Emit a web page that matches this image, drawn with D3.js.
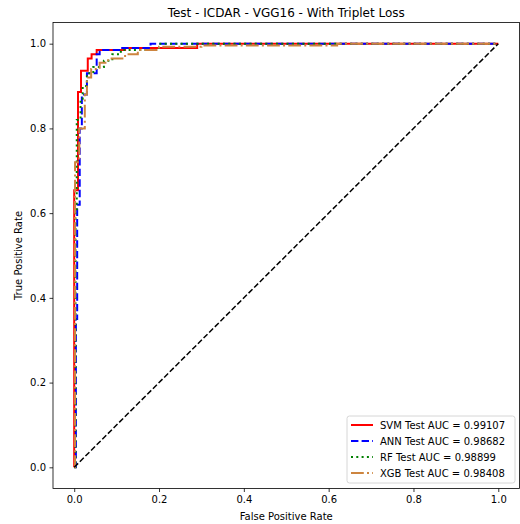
<!DOCTYPE html>
<html><head><meta charset="utf-8">
<script src="https://cdn.jsdelivr.net/npm/d3@7"></script>
<style>body{margin:0;background:#fff}svg{display:block}text{font-family:"DejaVu Sans",sans-serif;fill:#000}</style>
</head><body>
<script>
const title = "Test - ICDAR - VGG16 - With Triplet Loss";
const xLabel = "False Positive Rate";
const yLabel = "True Positive Rate";
const ticks = [0, 0.2, 0.4, 0.6, 0.8, 1.0];

const svmFpr = [0, 0, 0.009, 0.009, 0.016, 0.016, 0.032, 0.032, 0.041, 0.041, 0.053, 0.053, 0.12, 0.12, 0.29, 0.29, 1.0];
const svmTpr = [0, 0.654, 0.654, 0.886, 0.886, 0.936, 0.936, 0.965, 0.965, 0.975, 0.975, 0.985, 0.985, 0.99, 0.99, 1.0, 1.0];

const annFpr = [0, 0.004, 0.004, 0.007, 0.007, 0.013, 0.013, 0.018, 0.018, 0.03, 0.03, 0.053, 0.053, 0.06, 0.06, 0.11, 0.11, 0.18, 0.18, 1.0];
const annTpr = [0, 0, 0.35, 0.35, 0.62, 0.62, 0.8, 0.8, 0.88, 0.88, 0.93, 0.93, 0.975, 0.975, 0.985, 0.985, 0.99, 0.99, 1.0, 1.0];

const rfFpr = [0, 0.003, 0.003, 0.006, 0.006, 0.015, 0.015, 0.02, 0.02, 0.03, 0.03, 0.045, 0.045, 0.07, 0.07, 0.09, 0.09, 0.11, 0.11, 0.2, 0.2, 1.0];
const rfTpr = [0, 0, 0.6, 0.6, 0.82, 0.82, 0.87, 0.87, 0.9, 0.9, 0.93, 0.93, 0.945, 0.945, 0.96, 0.96, 0.975, 0.975, 0.985, 0.985, 1.0, 1.0];

const xgbFpr = [0, 0.002, 0.002, 0.012, 0.012, 0.025, 0.025, 0.03, 0.03, 0.04, 0.04, 0.06, 0.06, 0.08, 0.08, 0.12, 0.12, 0.15, 0.15, 0.2, 0.2, 0.3, 0.3, 0.62, 0.62, 1.0];
const xgbTpr = [0, 0, 0.72, 0.72, 0.8, 0.8, 0.88, 0.88, 0.92, 0.92, 0.94, 0.94, 0.955, 0.955, 0.965, 0.965, 0.975, 0.975, 0.985, 0.985, 0.993, 0.993, 0.996, 0.996, 1.0, 1.0];

const seriesNames = ["SVM Test AUC = 0.99107", "ANN Test AUC = 0.98682", "RF Test AUC = 0.98899", "XGB Test AUC = 0.98408"];

const series = [
  {name: seriesNames[0], fpr: svmFpr, tpr: svmTpr, color: "#ff0000", dash: null},
  {name: seriesNames[1], fpr: annFpr, tpr: annTpr, color: "#0000ff", dash: "7.4,3.2"},
  {name: seriesNames[2], fpr: rfFpr, tpr: rfTpr, color: "#008000", dash: "2,3.3"},
  {name: seriesNames[3], fpr: xgbFpr, tpr: xgbTpr, color: "#cd853f", dash: "12.8,3.2,2,3.2"}
];

const W = 520, H = 524;
const L = 53, R = 519.5, T = 22.5, B = 488.5;
const svg = d3.select("body").append("svg").attr("width", W).attr("height", H);
const x = d3.scaleLinear().domain([-0.05, 1.05]).range([L, R]);
const y = d3.scaleLinear().domain([-0.05, 1.05]).range([B, T]);

svg.append("defs").append("clipPath").attr("id", "clip")
  .append("rect").attr("x", L).attr("y", T).attr("width", R - L).attr("height", B - T);

const line = d3.line().x(d => x(d[0])).y(d => y(d[1]));
const g = svg.append("g").attr("clip-path", "url(#clip)");
series.forEach(s => {
  const pts = s.fpr.map((f, i) => [f, s.tpr[i]]);
  g.append("path").attr("d", line(pts)).attr("fill", "none")
    .attr("stroke", s.color).attr("stroke-width", 2)
    .attr("stroke-dasharray", s.dash).attr("stroke-linejoin", "miter").attr("stroke-linecap", "butt");
});
g.append("path").attr("d", line([[0, 0], [1, 1]])).attr("fill", "none")
  .attr("stroke", "#000").attr("stroke-width", 1.5).attr("stroke-dasharray", "5.55,2.4");

const fmt = d3.format(".1f");
const xAxis = svg.append("g").attr("transform", `translate(0,${B})`)
  .call(d3.axisBottom(x).tickValues(ticks).tickFormat(fmt).tickSize(3.5).tickPadding(3.5));
const yAxis = svg.append("g").attr("transform", `translate(${L},0)`)
  .call(d3.axisLeft(y).tickValues(ticks).tickFormat(fmt).tickSize(3.5).tickPadding(3.5));
[xAxis, yAxis].forEach(a => {
  a.select(".domain").remove();
  a.selectAll("text").attr("font-size", 10).attr("font-family", "DejaVu Sans").attr("fill", "#000");
  a.selectAll("line").attr("stroke", "#000").attr("stroke-width", 0.8);
});

svg.append("rect").attr("x", L).attr("y", T).attr("width", R - L).attr("height", B - T)
  .attr("fill", "none").attr("stroke", "#000").attr("stroke-width", 0.8);

svg.append("text").attr("x", (L + R) / 2).attr("y", 17).attr("text-anchor", "middle")
  .attr("font-size", 12).text(title);
svg.append("text").attr("x", (L + R) / 2).attr("y", 520).attr("text-anchor", "middle")
  .attr("font-size", 10).text(xLabel);
svg.append("text").attr("transform", `translate(22,${(T + B) / 2}) rotate(-90)`).attr("text-anchor", "middle")
  .attr("font-size", 10).text(yLabel);

// legend
const lx = 347, ly = 416, lw = 168, lh = 67;
svg.append("rect").attr("x", lx).attr("y", ly).attr("width", lw).attr("height", lh)
  .attr("rx", 2.5).attr("fill", "#fff").attr("fill-opacity", 0.8).attr("stroke", "#cccccc").attr("stroke-width", 0.8);
series.forEach((s, i) => {
  const yy = 425 + i * 16;
  svg.append("line").attr("x1", 351).attr("x2", 373).attr("y1", yy).attr("y2", yy)
    .attr("stroke", s.color).attr("stroke-width", 2).attr("stroke-dasharray", s.dash);
  svg.append("text").attr("x", 380).attr("y", yy + 3.6).attr("font-size", 10).text(s.name);
});
</script>
</body></html>
